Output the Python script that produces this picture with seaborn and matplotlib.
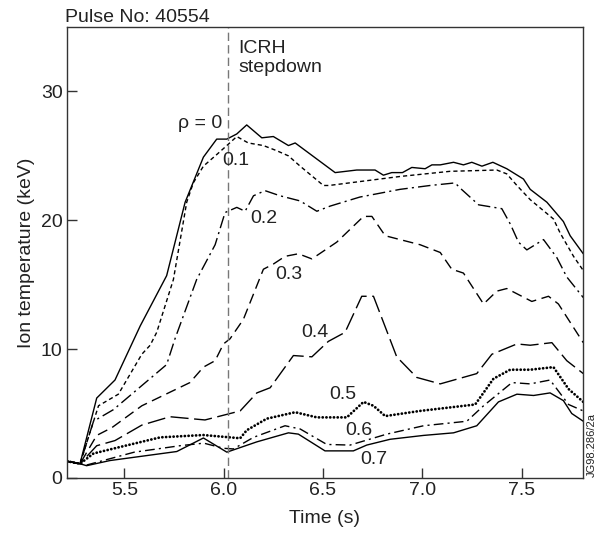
import matplotlib
matplotlib.use("Agg")
import matplotlib.pyplot as plt
import seaborn as sns
import pandas as pd

# ---- data ----
t_r00 = [5.21, 5.277, 5.361, 5.453, 5.58, 5.713, 5.806, 5.898, 5.965, 6.016, 6.066, 6.116, 6.192, 6.25,
         6.326, 6.36, 6.561, 6.67, 6.762, 6.804, 6.846, 6.90, 6.947, 7.014, 7.048, 7.09, 7.157, 7.207,
         7.249, 7.30, 7.355, 7.425, 7.509, 7.543, 7.627, 7.71, 7.744, 7.81]
ti_r00 = [1.3, 1.1, 6.2, 7.6, 11.8, 15.7, 21.4, 24.9, 26.3, 26.3, 26.7, 27.4, 26.4, 26.5,
          25.8, 26.0, 23.7, 23.9, 23.9, 23.5, 23.7, 23.7, 24.1, 24.0, 24.3, 24.3, 24.5, 24.3,
          24.5, 24.2, 24.5, 24.0, 23.2, 22.4, 21.4, 19.9, 18.8, 17.4]

t_r01 = [5.21, 5.277, 5.37, 5.47, 5.588, 5.63, 5.663, 5.747, 5.814, 5.847, 5.898, 5.965, 6.016, 6.066,
         6.124, 6.2, 6.267, 6.326, 6.385, 6.502, 6.53, 6.888, 7.14, 7.375, 7.425, 7.476, 7.543, 7.66,
         7.694, 7.761, 7.81]
ti_r01 = [1.3, 1.1, 5.6, 6.5, 9.6, 10.3, 11.3, 15.4, 21.4, 22.9, 24.2, 25.1, 25.8, 26.5,
          26.0, 25.8, 25.4, 25.0, 24.2, 22.7, 22.7, 23.4, 23.8, 23.9, 23.6, 22.7, 21.6, 20.1,
          19.0, 17.2, 16.1]

t_r02 = [5.21, 5.277, 5.345, 5.445, 5.713, 5.755, 5.864, 5.957, 6.007, 6.066, 6.108, 6.15, 6.208, 6.284,
         6.385, 6.469, 6.536, 6.685, 6.888, 7.039, 7.165, 7.19, 7.283, 7.4, 7.443, 7.484, 7.526, 7.61,
         7.677, 7.727, 7.81]
ti_r02 = [1.3, 1.1, 4.4, 5.3, 8.8, 10.8, 15.4, 18.1, 20.6, 21.0, 20.7, 21.9, 22.3, 21.9,
          21.5, 20.7, 21.1, 21.8, 22.4, 22.7, 22.9, 22.5, 21.2, 20.9, 19.7, 18.3, 17.7, 18.5,
          17.1, 15.6, 14.0]

t_r03 = [5.21, 5.277, 5.361, 5.437, 5.588, 5.83, 5.898, 5.957, 5.999, 6.032, 6.099, 6.2, 6.25, 6.309,
         6.376, 6.444, 6.569, 6.704, 6.746, 6.813, 6.888, 6.989, 7.09, 7.148, 7.207, 7.308, 7.375,
         7.425, 7.551, 7.635, 7.685, 7.81]
ti_r03 = [1.3, 1.1, 3.3, 3.9, 5.6, 7.4, 8.6, 9.1, 10.4, 10.8, 12.3, 16.2, 16.6, 17.2,
          17.4, 17.0, 18.3, 20.3, 20.3, 18.8, 18.5, 18.1, 17.5, 16.2, 15.9, 13.5, 14.5,
          14.7, 13.7, 14.1, 13.5, 10.5]

t_r04 = [5.21, 5.277, 5.361, 5.453, 5.588, 5.73, 5.906, 6.083, 6.167, 6.234, 6.351, 6.444, 6.527,
         6.611, 6.695, 6.754, 6.871, 6.972, 7.09, 7.274, 7.35, 7.476, 7.543, 7.652, 7.727, 7.81]
ti_r04 = [1.3, 1.1, 2.5, 2.9, 4.1, 4.75, 4.5, 5.2, 6.6, 7.0, 9.5, 9.4, 10.6,
          11.3, 14.1, 14.1, 9.4, 7.8, 7.3, 8.1, 9.6, 10.4, 10.3, 10.5, 9.1, 8.1]

t_r05 = [5.21, 5.277, 5.345, 5.478, 5.681, 5.898, 6.083, 6.116, 6.217, 6.36, 6.469, 6.62, 6.704,
         6.754, 6.813, 6.988, 7.266, 7.358, 7.442, 7.543, 7.66, 7.736, 7.81]
ti_r05 = [1.3, 1.1, 1.9, 2.4, 3.15, 3.33, 3.08, 3.7, 4.6, 5.1, 4.7, 4.7, 5.9,
          5.6, 4.8, 5.2, 5.7, 7.7, 8.4, 8.4, 8.6, 6.9, 5.9]

t_r06 = [5.21, 5.277, 5.31, 5.55, 5.78, 5.9, 6.0, 6.049, 6.15, 6.309, 6.385, 6.519, 6.636, 6.821,
         7.006, 7.224, 7.308, 7.451, 7.543, 7.643, 7.736, 7.81]
ti_r06 = [1.3, 1.1, 1.0, 2.0, 2.5, 2.7, 2.3, 2.25, 3.15, 4.05, 3.8, 2.6, 2.55, 3.4,
          4.05, 4.4, 5.6, 7.4, 7.3, 7.6, 5.7, 5.2]

t_r07 = [5.21, 5.277, 5.31, 5.428, 5.764, 5.898, 6.016, 6.167, 6.326, 6.376, 6.51, 6.653, 6.72,
         6.838, 7.006, 7.157, 7.274, 7.383, 7.476, 7.56, 7.643, 7.71, 7.752, 7.81]
ti_r07 = [1.3, 1.1, 0.95, 1.35, 2.05, 3.1, 2.0, 2.8, 3.5, 3.4, 2.1, 2.1, 2.55,
          3.0, 3.3, 3.5, 4.05, 5.9, 6.5, 6.4, 6.6, 6.0, 5.0, 4.4]

rho_labels = ["ρ = 0", "0.1", "0.2", "0.3", "0.4", "0.5", "0.6", "0.7"]
label_x = [5.992, 6.06, 6.20, 6.33, 6.46, 6.60, 6.68, 6.755]
label_y = [27.5, 24.65, 20.1, 15.8, 11.3, 6.5, 3.7, 1.45]

x_ticks = [5.5, 6.0, 6.5, 7.0, 7.5]
y_ticks = [0, 10, 20, 30]
icrh_time = 6.02

# ---- style ----
sns.set_style("ticks")
plt.rcParams["font.family"] = ["Liberation Sans", "DejaVu Sans"]
plt.rcParams["lines.scale_dashes"] = False
ink = "#222222"

fig = plt.figure(figsize=(6.01, 5.34), dpi=100)
ax = fig.add_axes([0.111, 0.105, 0.8595, 0.8444])

series = [
    (t_r00, ti_r00, "-", 1.0, "butt"),
    (t_r01, ti_r01, (0, (3.0, 2.2)), 1.0, "butt"),
    (t_r02, ti_r02, (0, (9, 3, 1.5, 3)), 1.0, "butt"),
    (t_r03, ti_r03, (0, (7.5, 4)), 1.0, "butt"),
    (t_r04, ti_r04, (0, (13, 4)), 1.0, "butt"),
    (t_r05, ti_r05, (0, (0.1, 2.6)), 2.0, "round"),
    (t_r06, ti_r06, (0, (7, 3, 1.5, 3)), 1.0, "butt"),
    (t_r07, ti_r07, "-", 1.0, "butt"),
]
for t, ti, ls, lw, cap in series:
    df = pd.DataFrame({"t": t, "ti": ti})
    sns.lineplot(data=df, x="t", y="ti", ax=ax, color="black", linewidth=lw,
                 linestyle=ls, estimator=None, sort=False, dash_capstyle=cap)

ax.axvline(icrh_time, color="#777777", lw=1.0, linestyle=(0, (6, 3)))

for lab, lx, ly in zip(rho_labels, label_x, label_y):
    ha = "right" if lab.startswith("ρ") else "center"
    ax.text(lx, ly, lab, fontsize=14, color=ink, ha=ha, va="center")

ax.text(icrh_time + 0.053, 34.0, "ICRH\nstepdown", fontsize=14, color=ink,
        ha="left", va="top", linespacing=1.15)

ax.set_xlim(5.21, 7.81)
ax.set_ylim(0, 35)
ax.set_xticks(x_ticks)
ax.set_xticklabels([f"{v:.1f}" for v in x_ticks])
ax.set_yticks(y_ticks)
ax.tick_params(direction="in", length=7, width=1, colors="#333333", labelcolor=ink,
               labelsize=14, pad=3)
for s in ax.spines.values():
    s.set_visible(True)
    s.set_color("#333333")
    s.set_linewidth(1.0)

ax.set_xlabel("Time (s)", fontsize=14, color=ink, labelpad=8)
ax.set_ylabel("Ion temperature (keV)", fontsize=14, color=ink, labelpad=4)

fig.text(0.108, 0.968, "Pulse No: 40554", fontsize=14, color=ink, ha="left", va="center")
fig.text(0.9935, 0.106, "JG98.286/2a", fontsize=8, color=ink, rotation=90,
         ha="right", va="bottom")

fig.savefig("out.png", dpi=100)
